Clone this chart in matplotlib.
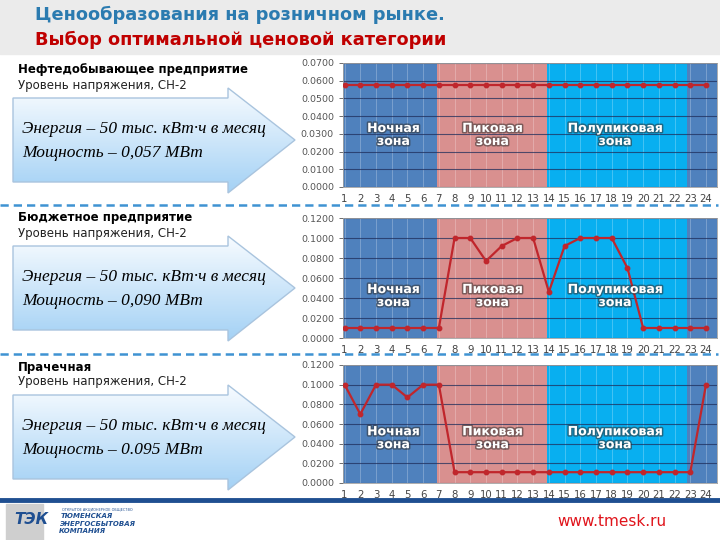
import matplotlib
matplotlib.use("Agg")
import matplotlib.pyplot as plt
import matplotlib.patheffects as pe
from matplotlib.patches import Polygon, Rectangle
import numpy as np

# data
hours = list(range(1, 25))
oil_load = [0.0578, 0.0578, 0.0578, 0.0578, 0.0578, 0.0578, 0.0578, 0.0578,
            0.0578, 0.0578, 0.0578, 0.0578, 0.0578, 0.0578, 0.0578, 0.0578,
            0.0578, 0.0578, 0.0578, 0.0578, 0.0578, 0.0578, 0.0578, 0.0578]
budget_load = [0.010, 0.010, 0.010, 0.010, 0.010, 0.010, 0.010, 0.100,
               0.100, 0.077, 0.092, 0.100, 0.100, 0.046, 0.092, 0.100,
               0.100, 0.100, 0.070, 0.010, 0.010, 0.010, 0.010, 0.010]
laundry_load = [0.100, 0.070, 0.100, 0.100, 0.087, 0.100, 0.100, 0.011,
                0.011, 0.011, 0.011, 0.011, 0.011, 0.011, 0.011, 0.011,
                0.011, 0.011, 0.011, 0.011, 0.011, 0.011, 0.011, 0.100]

titles = ["Нефтедобывающее предприятие", "Бюджетное предприятие", "Прачечная"]
subtitle = "Уровень напряжения, СН-2"
energy_txt = "Энергия – 50 тыс. кВт·ч в месяц"
power_txt = ["Мощность – 0,057 МВт", "Мощность – 0,090 МВт", "Мощность – 0.095 МВт"]
zone_names = ["Ночная\nзона", "Пиковая\nзона", "Полупиковая\nзона"]

W, H = 720, 540
fig = plt.figure(figsize=(W / 100, H / 100), dpi=100)
fig.patch.set_facecolor("white")


def rect(x0, y0, x1, y1):
    # pixel box (top-left origin) -> figure fraction
    return [x0 / W, 1 - y1 / H, (x1 - x0) / W, (y1 - y0) / H]


# background layer, pixel coordinates
bg = fig.add_axes([0, 0, 1, 1], zorder=0)
bg.set_xlim(0, W)
bg.set_ylim(H, 0)
bg.axis("off")

bg.add_patch(Rectangle((0, 0), W, 54, color="#ebebeb", zorder=0))
bg.text(35, 15, "Ценообразования на розничном рынке.", color="#2b7bb0",
        fontsize=12.8, fontweight="bold", va="center", ha="left")
bg.text(35, 40, "Выбор оптимальной ценовой категории", color="#c00000",
        fontsize=12.8, fontweight="bold", va="center", ha="left")

# dashed separators and footer line
for yy in (205, 354):
    bg.plot([0, 718], [yy, yy], color="#3f93d2", lw=1.8, dashes=(3.3, 2.0))
bg.plot([0, W], [500, 500], color="#1f4f91", lw=3.5)

grad = np.linspace(0, 1, 100).reshape(-1, 1)
c_top = np.array([0.97, 0.985, 1.0])
c_bot = np.array([0.64, 0.82, 0.96])
grad_img = c_top + grad[..., None] * (c_bot - c_top)
grad_img = np.repeat(grad_img, 2, axis=1)

shifts = [0, 148, 297]
for i, dy in enumerate(shifts):
    bg.text(18, 70 + dy, titles[i], fontsize=8.5, fontweight="bold",
            va="center", ha="left", color="black")
    bg.text(18, 85 + dy, subtitle, fontsize=8.5, va="center", ha="left",
            color="#222222")
    pts = [(13, 98 + dy), (228, 98 + dy), (228, 88 + dy), (295, 140 + dy),
           (228, 193 + dy), (228, 182 + dy), (13, 182 + dy)]
    arrow = Polygon(pts, closed=True, fc="none", ec="#a9c4de", lw=1.0, zorder=2)
    bg.add_patch(arrow)
    im = bg.imshow(grad_img, extent=(13, 295, 193 + dy, 88 + dy), aspect="auto",
                   zorder=1, interpolation="bilinear")
    im.set_clip_path(arrow)
    bg.text(22, 129 + dy, energy_txt, family="Liberation Serif", style="italic",
            fontsize=12.5, va="center", ha="left", zorder=3)
    bg.text(22, 153 + dy, power_txt[i], family="Liberation Serif", style="italic",
            fontsize=12.5, va="center", ha="left", zorder=3)

# footer
bg.add_patch(Rectangle((6, 504), 37, 36, color="#cfcfcf", zorder=1))
bg.text(31, 519, "ТЭК", color="#1f4f91", fontsize=11, fontweight="bold",
        style="italic", ha="center", va="center", zorder=2)
bg.text(62, 509, "ОТКРЫТОЕ АКЦИОНЕРНОЕ ОБЩЕСТВО", color="#1f4f91", fontsize=2.5,
        ha="left", va="center")
for k, word in enumerate(["ТЮМЕНСКАЯ", "ЭНЕРГОСБЫТОВАЯ", "КОМПАНИЯ"]):
    bg.text(61 - k, 516 + 7.5 * k, word, color="#1f4f91", fontsize=5,
            fontweight="bold", style="italic", ha="left", va="center")
bg.text(612, 522, "www.tmesk.ru", color="#e0141b", fontsize=11,
        ha="center", va="center")

# charts
night_c, peak_c, semi_c = "#4f81bd", "#d9908f", "#08aff0"
boxes = [(343, 63, 717, 187), (343, 218, 717, 338), (343, 365, 717, 483)]
series = [oil_load, budget_load, laundry_load]
ymaxes = [0.07, 0.12, 0.12]
ysteps = [0.01, 0.02, 0.02]
label_y = [0.42, 0.35, 0.38]

for i in range(3):
    ax = fig.add_axes(rect(*boxes[i]), zorder=1)
    x_lo, x_hi = 0.9, 24.7
    ax.axvspan(x_lo, 6.9, color=night_c, lw=0)
    ax.axvspan(6.9, 13.9, color=peak_c, lw=0)
    ax.axvspan(13.9, 22.8, color=semi_c, lw=0)
    ax.axvspan(22.8, x_hi, color=night_c, lw=0)
    for h in hours:
        ax.axvline(h, color="white", lw=0.5, alpha=0.35)
    yt = np.arange(0, ymaxes[i] + 1e-9, ysteps[i])
    for v in yt:
        ax.axhline(v, color="#1f2f5c", lw=0.8, alpha=0.75)
    ax.plot(hours, series[i], color="#c0262c", lw=1.6, marker="o", ms=3.2,
            zorder=5)
    ax.set_xlim(x_lo, x_hi)
    ax.set_ylim(0, ymaxes[i])
    ax.set_xticks(hours)
    ax.set_xticklabels([str(h) for h in hours])
    ax.set_yticks(yt)
    ax.set_yticklabels(["%.4f" % v for v in yt])
    ax.tick_params(axis="y", labelsize=6.8, colors="#555555", length=3, width=0.6)
    ax.tick_params(axis="x", labelsize=7.3, colors="#444444", length=0, pad=5)
    for s in ax.spines.values():
        s.set_color("#a0a0a0")
        s.set_linewidth(0.6)
    zx = [4.1, 10.4, 18.2]
    for z in range(3):
        ax.text(zx[z], label_y[i], zone_names[z], transform=ax.get_xaxis_transform(),
                color="white", fontsize=9, fontweight="bold", ha="center",
                va="center", linespacing=1.0, zorder=6,
                path_effects=[pe.withStroke(linewidth=2.2, foreground="#303030",
                                            alpha=0.55)])

fig.savefig("out.png", dpi=100)
